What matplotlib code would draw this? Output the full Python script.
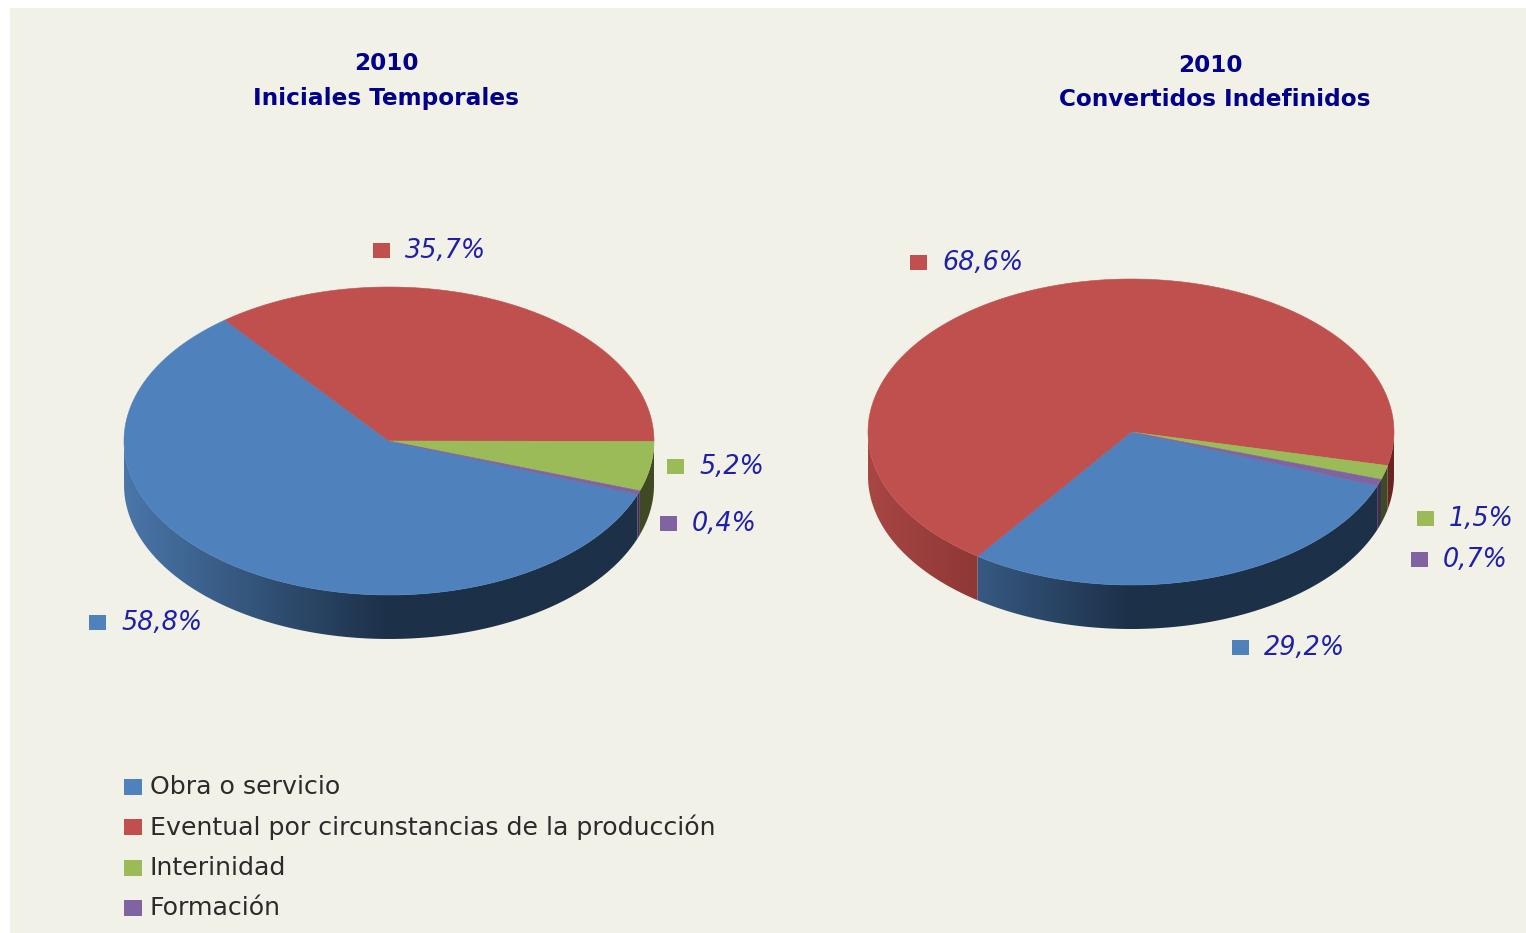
import numpy as np, matplotlib
matplotlib.use("Agg")
import matplotlib.pyplot as plt
from matplotlib.patches import Polygon, Rectangle
from matplotlib.colors import LinearSegmentedColormap

categories = ["Obra o servicio", "Eventual por circunstancias de la producción", "Interinidad", "Formación"]
iniciales = [58.8, 35.7, 5.2, 0.4]
convertidos = [29.2, 68.6, 1.5, 0.7]
titles = [("2010", "Iniciales Temporales"), ("2010", "Convertidos Indefinidos")]
colors = ["#4F81BD", "#C0504D", "#9BBB59", "#8064A2"]
dark = ["#1C3048", "#6A2422", "#3F4A24", "#3C2F50"]
light = ["#4A76AA", "#A84644", "#7F9A48", "#6A5388"]
BG = "#F1F1E8"
TXT = "#1F1FA8"
TITLE = "#00008B"

fig = plt.figure(figsize=(15.26, 9.33), dpi=100, facecolor="white")
ax = fig.add_axes([0, 0, 1, 1])
ax.set_xlim(0, 1526); ax.set_ylim(933, 0); ax.axis("off")
ax.add_patch(Rectangle((10, 8), 1516, 925, fc=BG, ec="none"))

def ell(cx, cy, rx, ry, a):
    a = np.radians(a)
    return np.column_stack([cx + rx*np.cos(a), cy - ry*np.sin(a)])

def pie3d(vals, start, cx, cy, rx, ry, depth):
    # clockwise from start angle, order = data order
    edges = start - np.cumsum([0] + list(vals)) * 360 / sum(vals)
    # side wall first, only the front half (180..360) is visible
    for i in range(len(vals)):
        a0, a1 = edges[i+1] % 360, edges[i+1] % 360 + (edges[i] - edges[i+1])
        for off in (0, 360, -360):
            lo, hi = max(a0 + off, 180), min(a1 + off, 360)
            if hi <= lo: continue
            t = np.linspace(lo, hi, 80)
            top = ell(cx, cy, rx, ry, t)
            bot = top + [0, depth]
            poly = Polygon(np.vstack([top, bot[::-1]]), fc="none", ec="none")
            ax.add_patch(poly)
            cm = LinearSegmentedColormap.from_list("w", [light[i], dark[i], dark[i]])
            grad = np.linspace(0, 1, 256).reshape(1, -1)
            im = ax.imshow(grad, cmap=cm, extent=(cx-rx, cx+rx, cy+ry+depth, cy-ry),
                           aspect="auto", zorder=2, vmin=0, vmax=1)
            im.set_clip_path(poly)
    # top faces on top
    for i in range(len(vals)):
        t = np.linspace(edges[i+1], edges[i], 200)
        pts = np.vstack([[cx, cy], ell(cx, cy, rx, ry, t)])
        ax.add_patch(Polygon(pts, fc=colors[i], ec=colors[i], lw=0.4, zorder=3))

pie3d(iniciales, -20.3, 389, 441, 265, 154, 44)
pie3d(convertidos, -20.6, 1131, 432, 263, 153, 44)
ax.set_xlim(0, 1526); ax.set_ylim(933, 0)

for (a, b), x, y in zip(titles, [386, 1210], [64, 65]):
    ax.text(x, y, a, color=TITLE, fontsize=16.7, fontweight="bold", ha="center", va="center", zorder=5)
for (a, b), x, y in zip(titles, [386, 1215], [99, 100]):
    ax.text(x, y, b, color=TITLE, fontsize=16.7, fontweight="bold", ha="center", va="center", zorder=5)

def tag(x, y, txt, i):
    ax.add_patch(Rectangle((x, y-8), 17, 15, fc=colors[i], ec="none", zorder=5))
    ax.text(x+32, y, txt, color=TXT, fontsize=18.4, style="italic", va="center", zorder=5)

fmt = lambda v: f"{v:.1f}%".replace(".", ",")
for v, i, x, y in zip(iniciales, range(4), [89, 373, 667, 660], [623, 251, 467, 524]):
    tag(x, y, fmt(v), i)
for v, i, x, y in zip(convertidos, range(4), [1232, 910, 1417, 1411], [648, 263, 519, 560]):
    tag(x, y, fmt(v), i)

for i, (c, y) in enumerate(zip(categories, [787, 827, 868, 908])):
    ax.add_patch(Rectangle((124, y-8), 18, 16, fc=colors[i], ec="none", zorder=5))
    ax.text(150, y, c, color="#2B2B2B", fontsize=18.2, va="center", zorder=5)

fig.savefig("out.png", dpi=100, facecolor="white")
